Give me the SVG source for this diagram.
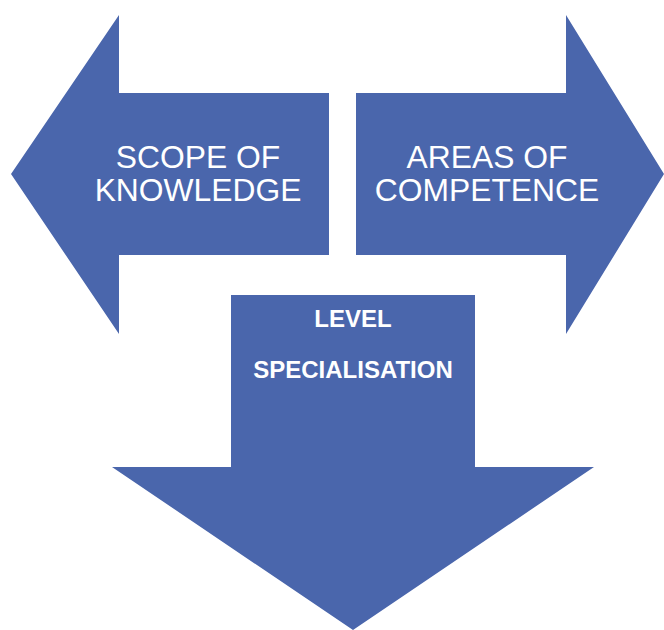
<svg xmlns="http://www.w3.org/2000/svg" width="664" height="630" viewBox="0 0 664 630">
  <style>
    .arrow { fill: #4A66AC; stroke: none; }
    .big { font-family: "Liberation Sans", Arial, sans-serif; font-size: 31.8px; fill: #ffffff; text-anchor: middle; }
    .bold { font-family: "Liberation Sans", Arial, sans-serif; font-size: 24px; font-weight: bold; fill: #ffffff; text-anchor: middle; }
  </style>
  <rect width="664" height="630" fill="#ffffff"/>

  <!-- left-pointing arrow -->
  <g id="scope">
    <polygon class="arrow" points="11,174 119,15 119,93 329,93 329,255 119,255 119,334"/>
    <text class="big" x="198" y="168">SCOPE OF</text>
    <text class="big" x="198" y="201">KNOWLEDGE</text>
  </g>

  <!-- right-pointing arrow -->
  <g id="areas">
    <polygon class="arrow" points="664,174 566,15 566,93 356,93 356,255 566,255 566,334"/>
    <text class="big" x="487" y="168">AREAS OF</text>
    <text class="big" x="487" y="201">COMPETENCE</text>
  </g>

  <!-- downward arrow -->
  <g id="level">
    <polygon class="arrow" points="231,295 475,295 475,467 594,467 353,630 112,467 231,467"/>
    <text class="bold" x="353" y="327">LEVEL</text>
    <text class="bold" x="353" y="378">SPECIALISATION</text>
  </g>

  <g id="connectors"/>
</svg>
